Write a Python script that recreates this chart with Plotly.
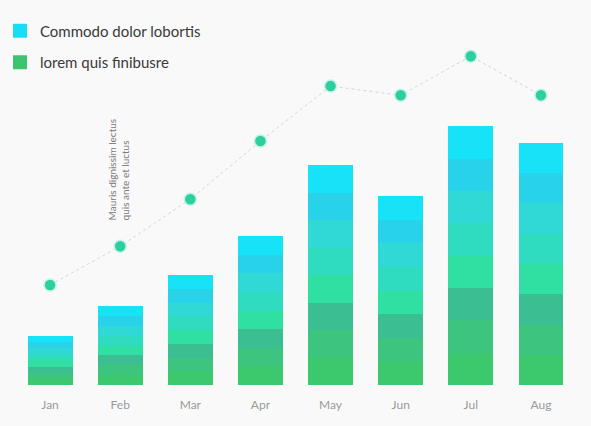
import plotly.graph_objects as go

months = ['Jan', 'Feb', 'Mar', 'Apr', 'May', 'Jun', 'Jul', 'Aug']
bar_values = [15, 24, 33.4, 45.3, 66.9, 57.4, 78.7, 73.6]
dot_values = [30.4, 42.2, 56.5, 74.2, 90.9, 88.1, 100, 88.1]
bar_name = 'Commodo dolor lobortis'
dot_name = 'lorem quis finibusre'
note_text = 'Mauris dignissim lectus<br>quis ante et luctus'

# bottom -> top shades used to fake the vertical gradient in each bar
shades = ['#3cc86c', '#3dc47e', '#3bbf92', '#2fe0a2', '#2fdcc0', '#30d8d6', '#28d3ea', '#16e2f8']

fig = go.Figure()

n = len(shades)
for c in shades:
    fig.add_trace(go.Bar(x=months, y=[v / n for v in bar_values], marker=dict(color=c, line=dict(width=0)),
                         showlegend=False, hoverinfo='skip'))

fig.add_trace(go.Scatter(x=months, y=dot_values, mode='lines+markers', showlegend=False,
                         line=dict(color='#d4d4d4', width=1, dash='dot'),
                         marker=dict(color='#2ecf9e', size=12, line=dict(color='#c4f2e6', width=1.5))))

# legend swatches
fig.add_trace(go.Scatter(x=[None], y=[None], mode='markers', name=bar_name, legendgroup='a',
                         marker=dict(symbol='square', size=14, color='#18def5')))
fig.add_trace(go.Scatter(x=[None], y=[None], mode='markers', name=dot_name, legendgroup='b',
                         marker=dict(symbol='square', size=14, color='#3cc470')))

fig.add_annotation(x='Feb', y=49.5, text=note_text, textangle=-90, showarrow=False,
                   xanchor='center', yanchor='bottom', align='left', xshift=-2,
                   font=dict(size=10, color='#7a7a7a'))

fig.update_layout(
    width=591, height=426,
    barmode='stack', bargap=0.36,
    paper_bgcolor='#f9f9f9', plot_bgcolor='#f9f9f9',
    margin=dict(l=15, r=15, t=20, b=41, autoexpand=False),
    font=dict(family='Lato', color='#444'),
    legend=dict(xref='container', yref='container', x=0, y=0.966, xanchor='left', yanchor='top',
                bgcolor='rgba(0,0,0,0)', traceorder='grouped', font=dict(size=15, color='#3a3a3a'),
                itemsizing='trace', tracegroupgap=9),
    xaxis=dict(showgrid=False, zeroline=False, showline=False, ticks='outside', ticklen=9,
               tickcolor='rgba(0,0,0,0)', tickfont=dict(size=12, color='#999'), range=[-0.5, 7.5]),
    yaxis=dict(visible=False, range=[0, 111]),
)

fig.write_html('out.html', config={'displayModeBar': False},
               post_script="document.body.style.margin='0';document.body.style.background='#f9f9f9';")
